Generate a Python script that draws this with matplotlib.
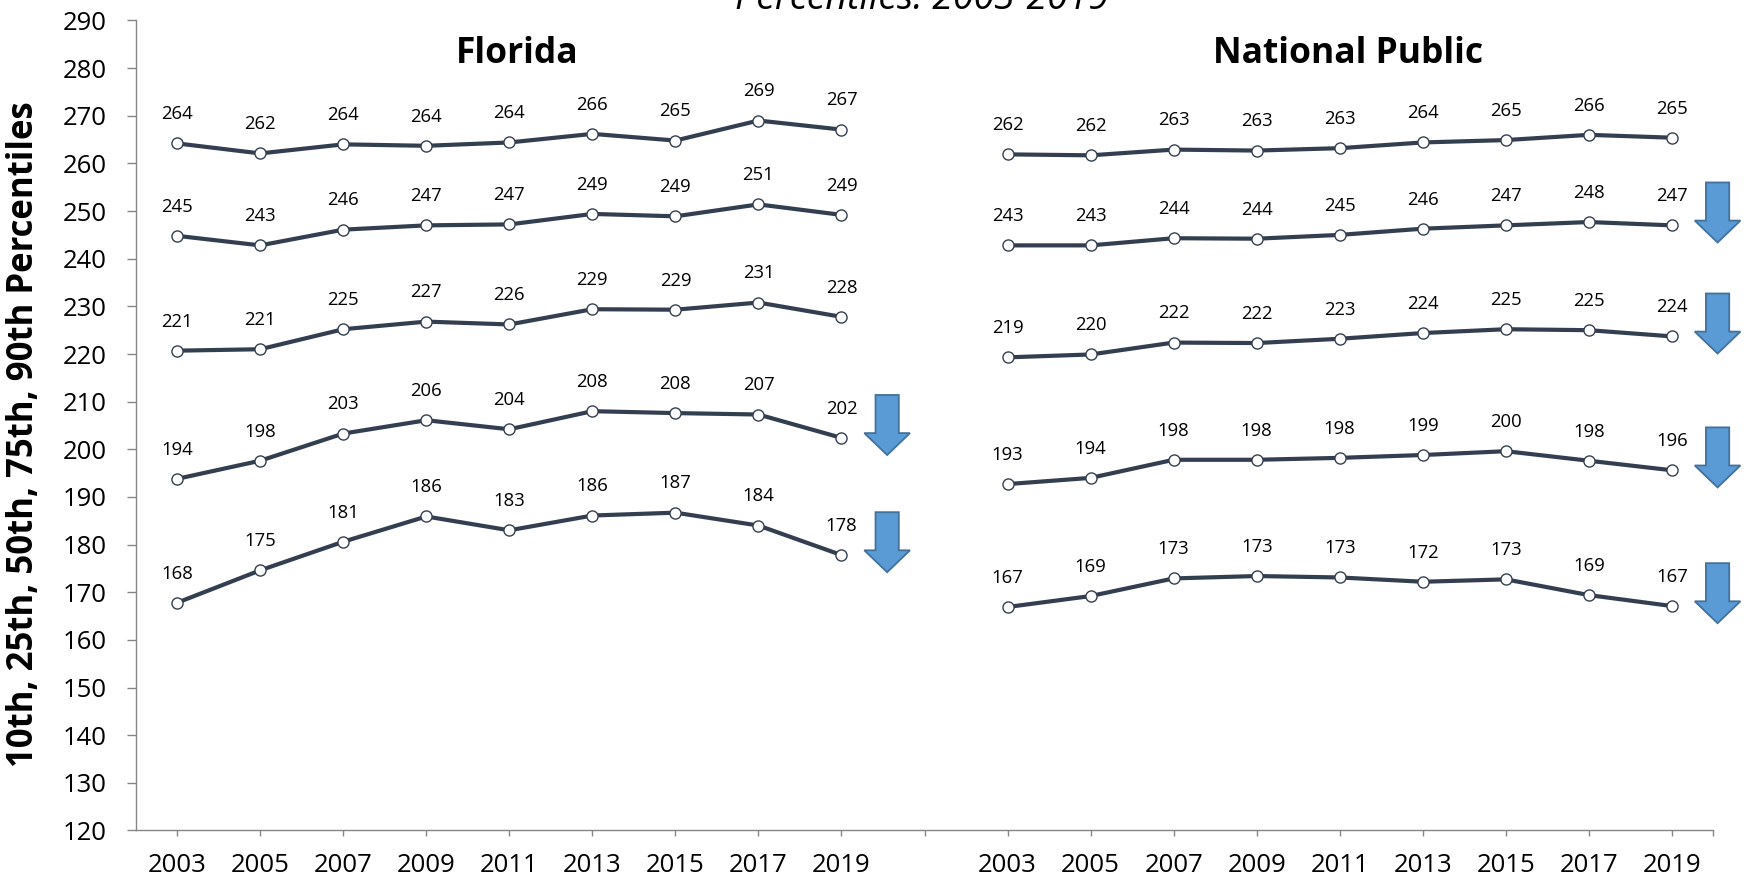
import matplotlib
matplotlib.use("Agg")
import matplotlib.pyplot as plt
from matplotlib.patches import FancyArrow

plt.rcParams['font.family'] = ['Open Sans', 'DejaVu Sans']

years = ['2003', '2005', '2007', '2009', '2011', '2013', '2015', '2017', '2019']
panels = ['Florida', 'National Public']

# Florida percentiles (10th..90th)
fl_p10 = [167.8, 174.6, 180.6, 185.9, 183.0, 186.1, 186.7, 184.0, 177.8]
fl_p25 = [193.8, 197.6, 203.3, 206.1, 204.2, 208.0, 207.6, 207.3, 202.4]
fl_p50 = [220.7, 221.0, 225.2, 226.8, 226.2, 229.4, 229.3, 230.8, 227.8]
fl_p75 = [244.8, 242.8, 246.1, 247.0, 247.2, 249.4, 248.9, 251.4, 249.2]
fl_p90 = [264.2, 262.1, 264.0, 263.7, 264.4, 266.2, 264.8, 269.0, 267.1]

# National public percentiles
np_p10 = [166.9, 169.2, 172.9, 173.4, 173.1, 172.2, 172.7, 169.4, 167.1]
np_p25 = [192.7, 194.0, 197.8, 197.8, 198.2, 198.8, 199.6, 197.6, 195.6]
np_p50 = [219.3, 219.9, 222.4, 222.3, 223.2, 224.4, 225.2, 225.0, 223.7]
np_p75 = [242.8, 242.8, 244.3, 244.2, 245.0, 246.3, 247.0, 247.7, 247.0]
np_p90 = [261.9, 261.7, 262.9, 262.7, 263.2, 264.4, 264.9, 266.0, 265.4]

# which series get a "decline" arrow after 2019
fl_decline = [True, True, False, False, False]
np_decline = [True, True, True, True, False]

line_col = '#333F50'
arrow_face = '#5B9BD5'
arrow_edge = '#41719C'
axis_col = '#868686'

fig = plt.figure(figsize=(17.5, 8.83), dpi=100)
ax = fig.add_axes([0.0775, 0.0595, 0.9016, 0.9173])

groups = [
    (0, [fl_p10, fl_p25, fl_p50, fl_p75, fl_p90], fl_decline),
    (len(years) + 1, [np_p10, np_p25, np_p50, np_p75, np_p90], np_decline),
]

for start, series, decline in groups:
    xs = list(range(start, start + len(years)))
    for vals, down in zip(series, decline):
        ax.plot(xs, vals, color=line_col, lw=3.0, marker='o', ms=8,
                mfc='white', mec=line_col, mew=1.0, zorder=3)
        for x, v in zip(xs, vals):
            ax.annotate(f"{v:.0f}", (x, v), xytext=(0, 21), textcoords='offset points',
                        ha='center', va='center', fontsize=13.3)
        if down:
            top = vals[-1] + 9
            ax.add_patch(FancyArrow(xs[-1] + 0.55, top, 0, -12.6, width=0.28,
                                    head_width=0.55, head_length=4.6,
                                    length_includes_head=True, fc=arrow_face,
                                    ec=arrow_edge, lw=1.3, clip_on=False, zorder=4))

for i, name in enumerate(panels):
    xc = groups[i][0] + 4.1
    ax.text(xc, 283, name, ha='center', va='center', fontsize=25.5, fontweight='bold')

ax.set_xlim(-0.5, 18.5)
ax.set_ylim(120, 290)
ax.set_yticks(range(120, 291, 10))
ax.set_xticks(list(range(19)) + [18.5])
ax.set_xticklabels(years + [''] + years + [''])

for s in ['top', 'right']:
    ax.spines[s].set_visible(False)
for s in ['left', 'bottom']:
    ax.spines[s].set_color(axis_col)
    ax.spines[s].set_linewidth(1.0)

ax.tick_params(axis='y', length=6.5, width=1.0, color=axis_col, labelsize=18.5, pad=14)
ax.tick_params(axis='x', length=4.5, width=1.0, color=axis_col, labelsize=18.5, pad=12)

fig.text(0.014, 0.508, '10th, 25th, 50th, 75th, 90th Percentiles', rotation=90,
         ha='center', va='center', fontsize=25, fontweight='bold')

fig.text(0.527, 0.990, 'Percentiles: 2003-2019', ha='center', va='baseline',
         fontsize=27, style='italic')

fig.savefig('out.png', dpi=100)
